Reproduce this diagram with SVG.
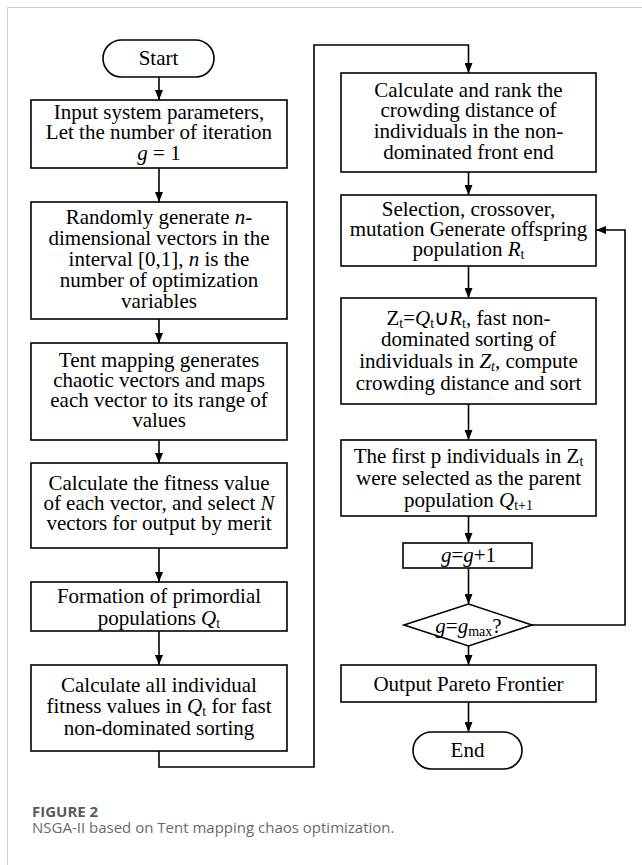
<svg xmlns="http://www.w3.org/2000/svg" width="642" height="865" viewBox="0 0 642 865">
<defs>
<style>
.box{fill:#fff;stroke:#000;stroke-width:1.6}
.t{font-family:"Liberation Serif","Times New Roman",serif;font-size:21px;fill:#000;text-anchor:middle}
.i{font-style:italic}
.s{font-size:14px;baseline-shift:-3px}
.c{fill:none;stroke:#000;stroke-width:1.6}
.cap1{font-family:"Open Sans","Noto Sans",sans-serif;font-size:15px;font-weight:bold;fill:#5a5a5a}
.cap2{font-family:"Open Sans","Noto Sans",sans-serif;font-size:15px;fill:#6a6a6a}
</style>
<marker id="ah" markerUnits="userSpaceOnUse" markerWidth="10" markerHeight="8" refX="10" refY="4" orient="auto">
<path d="M0,0 L10,4 L0,8 z" fill="#000"/>
</marker>
</defs>
<rect width="642" height="865" fill="#fff"/>
<path d="M7.5,865 V7.5 H642" fill="none" stroke="#cccccc" stroke-width="1"/>

<g id="connectors">
<path class="c" d="M159,77 V100" marker-end="url(#ah)"/>
<path class="c" d="M159,168 V202" marker-end="url(#ah)"/>
<path class="c" d="M159,319 V343" marker-end="url(#ah)"/>
<path class="c" d="M159,440 V463" marker-end="url(#ah)"/>
<path class="c" d="M159,548 V582" marker-end="url(#ah)"/>
<path class="c" d="M159,631 V665" marker-end="url(#ah)"/>
<path class="c" d="M159,751 V767 H314 V45 H468.5 V73" marker-end="url(#ah)"/>
<path class="c" d="M468.5,172 V195" marker-end="url(#ah)"/>
<path class="c" d="M468.5,266 V298" marker-end="url(#ah)"/>
<path class="c" d="M468.5,404 V440" marker-end="url(#ah)"/>
<path class="c" d="M468.5,516 V543" marker-end="url(#ah)"/>
<path class="c" d="M468.5,568 V604" marker-end="url(#ah)"/>
<path class="c" d="M468.5,646 V665" marker-end="url(#ah)"/>
<path class="c" d="M468.5,702 V732" marker-end="url(#ah)"/>
<path class="c" d="M532,625 H625 V230 H596" marker-end="url(#ah)"/>
</g>

<g id="start">
<rect class="box" x="103" y="40" width="111" height="37" rx="18.5"/>
<text class="t" x="158.5" y="65">Start</text>
</g>

<g id="input">
<rect class="box" x="31" y="100" width="256" height="68"/>
<text class="t" x="159" y="119">Input system parameters,</text>
<text class="t" x="159" y="139">Let the number of iteration</text>
<text class="t" x="159" y="160"><tspan class="i">g</tspan> = 1</text>
</g>

<g id="random">
<rect class="box" x="31" y="202" width="256" height="117"/>
<text class="t" x="159" y="224">Randomly generate <tspan class="i">n</tspan>-</text>
<text class="t" x="159" y="245">dimensional vectors in the</text>
<text class="t" x="159" y="266">interval [0,1], <tspan class="i">n</tspan> is the</text>
<text class="t" x="159" y="287">number of optimization</text>
<text class="t" x="159" y="308">variables</text>
</g>

<g id="tent">
<rect class="box" x="31" y="343" width="256" height="97"/>
<text class="t" x="159" y="367">Tent mapping generates</text>
<text class="t" x="159" y="387">chaotic vectors and maps</text>
<text class="t" x="159" y="407">each vector to its range of</text>
<text class="t" x="159" y="427">values</text>
</g>

<g id="fitness">
<rect class="box" x="31" y="463" width="256" height="85"/>
<text class="t" x="159" y="490">Calculate the fitness value</text>
<text class="t" x="159" y="510">of each vector, and select <tspan class="i">N</tspan></text>
<text class="t" x="159" y="530">vectors for output by merit</text>
</g>

<g id="formation">
<rect class="box" x="31" y="582" width="256" height="49"/>
<text class="t" x="159" y="603">Formation of primordial</text>
<text class="t" x="159" y="625">populations <tspan class="i">Q</tspan><tspan class="s">t</tspan></text>
</g>

<g id="calcall">
<rect class="box" x="31" y="665" width="256" height="86"/>
<text class="t" x="159" y="692">Calculate all individual</text>
<text class="t" x="159" y="713">fitness values in <tspan class="i">Q</tspan><tspan class="s">t</tspan> for fast</text>
<text class="t" x="159" y="735">non-dominated sorting</text>
</g>

<g id="crowding">
<rect class="box" x="341" y="73" width="255" height="99"/>
<text class="t" x="468.5" y="97">Calculate and rank the</text>
<text class="t" x="468.5" y="117">crowding distance of</text>
<text class="t" x="468.5" y="138">individuals in the non-</text>
<text class="t" x="468.5" y="159">dominated front end</text>
</g>

<g id="selection">
<rect class="box" x="341" y="195" width="255" height="71"/>
<text class="t" x="468.5" y="216">Selection, crossover,</text>
<text class="t" x="468.5" y="236">mutation Generate offspring</text>
<text class="t" x="468.5" y="256">population <tspan class="i">R</tspan><tspan class="s">t</tspan></text>
</g>

<g id="merge">
<rect class="box" x="341" y="298" width="255" height="106"/>
<text class="t" x="468.5" y="325">Z<tspan class="s">t</tspan>=<tspan class="i">Q</tspan><tspan class="s">t</tspan>∪<tspan class="i">R</tspan><tspan class="s">t</tspan>, fast non-</text>
<text class="t" x="468.5" y="346">dominated sorting of</text>
<text class="t" x="468.5" y="368">individuals in <tspan class="i">Z</tspan><tspan class="s i">t</tspan>, compute</text>
<text class="t" x="468.5" y="390">crowding distance and sort</text>
</g>

<g id="parent">
<rect class="box" x="341" y="440" width="255" height="76"/>
<text class="t" x="468.5" y="463">The first p individuals in Z<tspan class="s">t</tspan></text>
<text class="t" x="468.5" y="485">were selected as the parent</text>
<text class="t" x="468.5" y="507">population <tspan class="i">Q</tspan><tspan class="s">t+1</tspan></text>
</g>

<g id="increment">
<rect class="box" x="403" y="543" width="129" height="25"/>
<text class="t" x="468.5" y="562"><tspan class="i">g</tspan>=<tspan class="i">g</tspan>+1</text>
</g>

<g id="decision">
<polygon class="box" points="468.5,604 532,625 468.5,646 404,625"/>
<text class="t" x="468.5" y="633"><tspan class="i">g</tspan>=<tspan class="i">g</tspan><tspan class="s">max</tspan>?</text>
</g>

<g id="output">
<rect class="box" x="341" y="665" width="255" height="37"/>
<text class="t" x="468.5" y="691">Output Pareto Frontier</text>
</g>

<g id="end">
<rect class="box" x="413" y="732" width="109" height="37" rx="18.5"/>
<text class="t" x="467.5" y="757">End</text>
</g>

<g id="caption">
<text class="cap1" x="32" y="817">FIGURE 2</text>
<text class="cap2" x="32" y="833">NSGA-II based on Tent mapping chaos optimization.</text>
</g>
</svg>
